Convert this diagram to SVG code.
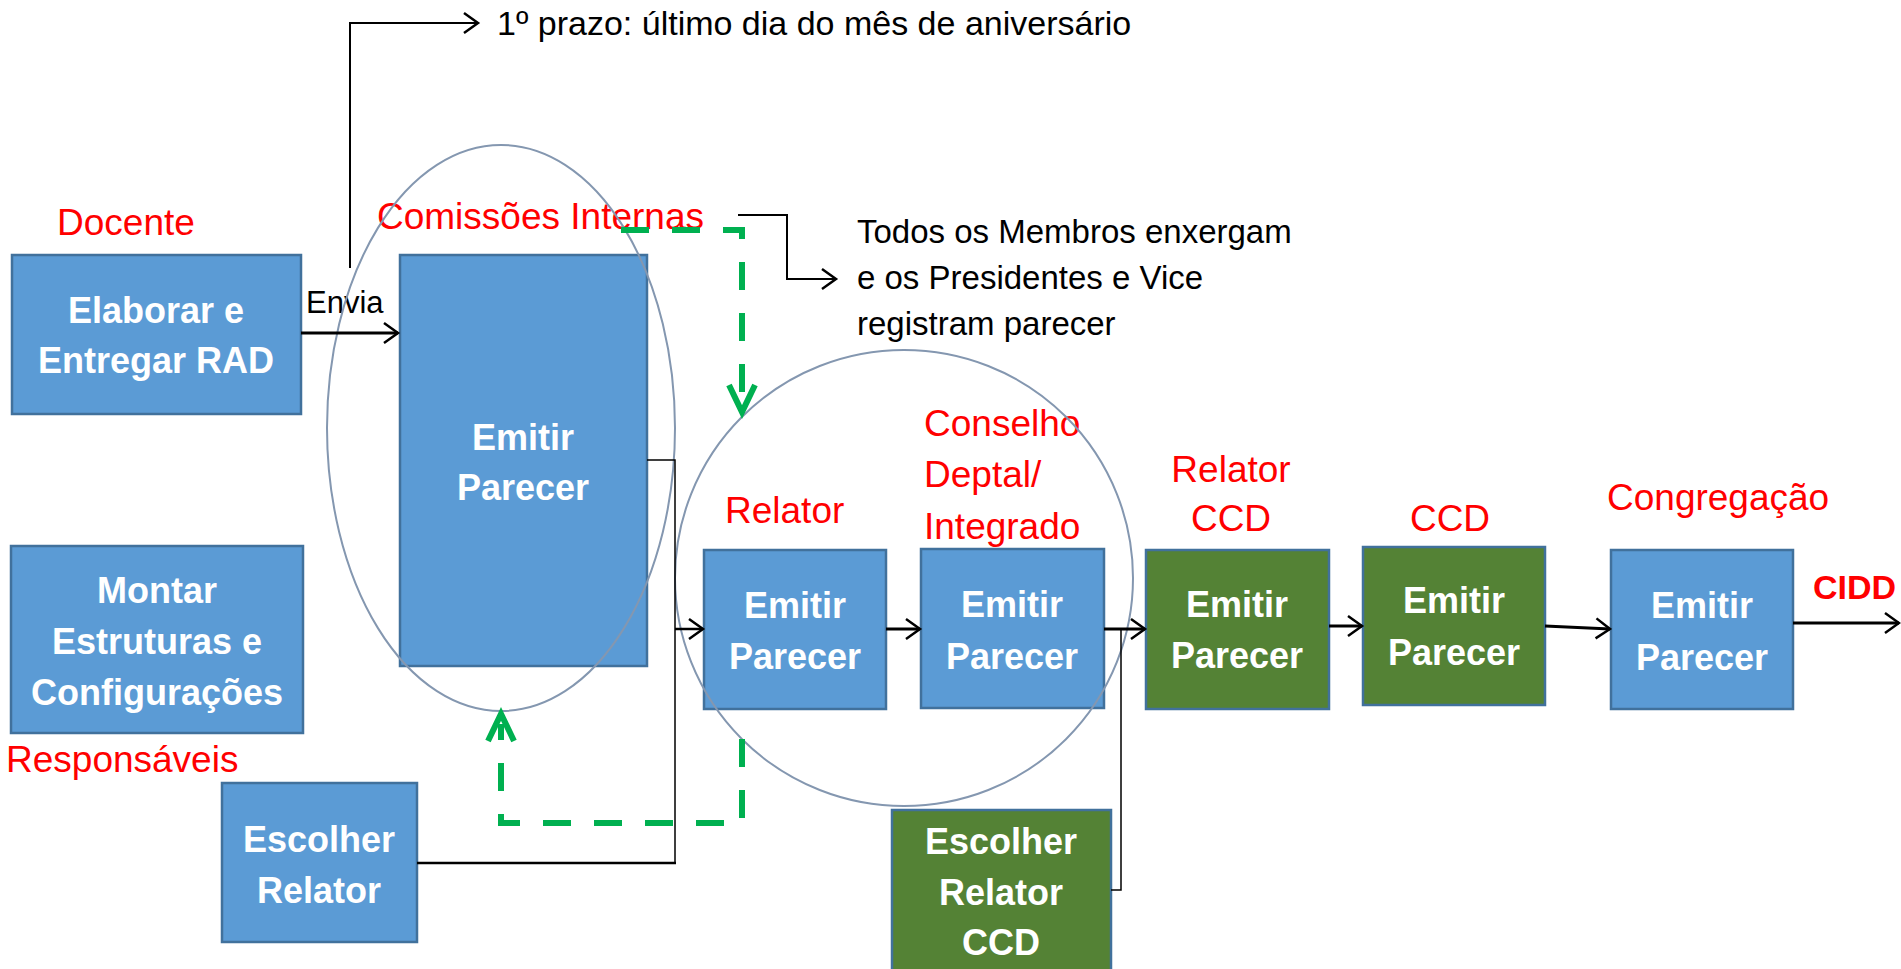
<svg xmlns="http://www.w3.org/2000/svg" width="1901" height="969" viewBox="0 0 1901 969">
<defs>
<style>
.box{stroke:#41719C;stroke-width:2.5}
.blue{fill:#5B9BD5}
.green{fill:#548235}
.bt{font-family:"Liberation Sans",Arial,sans-serif;font-weight:bold;font-size:36px;fill:#fff;text-anchor:middle}
.red{font-family:"Liberation Sans",Arial,sans-serif;font-size:37px;fill:#FF0000}
.blk{font-family:"Liberation Sans",Arial,sans-serif;font-size:33px;fill:#000}
.ell{fill:none;stroke:#8497B0;stroke-width:2}
.ln{fill:none;stroke:#000}
.gd{fill:none;stroke:#00B050;stroke-width:6;stroke-dasharray:28 23}
.gh{fill:none;stroke:#00B050;stroke-width:6;stroke-linejoin:miter}
</style>
<marker id="ar" markerUnits="userSpaceOnUse" markerWidth="22" markerHeight="26" refX="17" refY="12" orient="auto">
<path d="M3,2 L17,12 L3,22" fill="none" stroke="#000" stroke-width="2.5"/>
</marker>
</defs>
<rect width="1901" height="969" fill="#fff"/>

<g id="labels">
<text class="red" x="57" y="235">Docente</text>
<text class="red" x="377" y="229">Comissões Internas</text>
<text class="red" x="6" y="772">Responsáveis</text>
<text class="red" x="725" y="523">Relator</text>
<text class="red" x="924" y="436">Conselho</text>
<text class="red" x="924" y="487">Deptal/</text>
<text class="red" x="924" y="539">Integrado</text>
<text class="red" x="1231" y="482" text-anchor="middle">Relator</text>
<text class="red" x="1231" y="531" text-anchor="middle">CCD</text>
<text class="red" x="1450" y="531" text-anchor="middle">CCD</text>
<text class="red" x="1607" y="510">Congregação</text>
<text class="red" x="1813" y="599" style="font-weight:bold;font-size:34px">CIDD</text>
<text class="blk" x="497" y="35" style="font-size:34px">1º prazo: último dia do mês de aniversário</text>
<text class="blk" x="857" y="243">Todos os Membros enxergam</text>
<text class="blk" x="857" y="289">e os Presidentes e Vice</text>
<text class="blk" x="857" y="335">registram parecer</text>
<text class="blk" x="306" y="313" style="font-size:31px">Envia</text>
</g>

<g id="n-elaborar"><rect class="box blue" x="12" y="255" width="289" height="159"/><text class="bt" x="156" y="323">Elaborar e</text><text class="bt" x="156" y="373">Entregar RAD</text></g>
<g id="n-emitir-ci"><rect class="box blue" x="400" y="255" width="247" height="411"/><text class="bt" x="523" y="450">Emitir</text><text class="bt" x="523" y="500">Parecer</text></g>
<g id="n-montar"><rect class="box blue" x="11" y="546" width="292" height="187"/><text class="bt" x="157" y="603">Montar</text><text class="bt" x="157" y="654">Estruturas e</text><text class="bt" x="157" y="705">Configurações</text></g>
<g id="n-escolher"><rect class="box blue" x="222" y="783" width="195" height="159"/><text class="bt" x="319" y="852">Escolher</text><text class="bt" x="319" y="903">Relator</text></g>
<g id="n-relator"><rect class="box blue" x="704" y="550" width="182" height="159"/><text class="bt" x="795" y="618">Emitir</text><text class="bt" x="795" y="669">Parecer</text></g>
<g id="n-conselho"><rect class="box blue" x="921" y="549" width="183" height="159"/><text class="bt" x="1012" y="617">Emitir</text><text class="bt" x="1012" y="669">Parecer</text></g>
<g id="n-escolher-ccd"><rect class="box green" x="892" y="810" width="219" height="164"/><text class="bt" x="1001" y="854">Escolher</text><text class="bt" x="1001" y="905">Relator</text><text class="bt" x="1001" y="955">CCD</text></g>
<g id="n-relator-ccd"><rect class="box green" x="1146" y="550" width="183" height="159"/><text class="bt" x="1237" y="617">Emitir</text><text class="bt" x="1237" y="668">Parecer</text></g>
<g id="n-ccd"><rect class="box green" x="1363" y="547" width="182" height="158"/><text class="bt" x="1454" y="613">Emitir</text><text class="bt" x="1454" y="665">Parecer</text></g>
<g id="n-congregacao"><rect class="box blue" x="1611" y="550" width="182" height="159"/><text class="bt" x="1702" y="618">Emitir</text><text class="bt" x="1702" y="670">Parecer</text></g>

<g id="groups">
<ellipse class="ell" cx="501" cy="428" rx="174" ry="283"/>
<ellipse class="ell" cx="904" cy="578" rx="229" ry="228"/>
</g>

<g id="connectors">
<path class="ln" stroke-width="3" d="M301,333 L398,333" marker-end="url(#ar)"/>
<path class="ln" stroke-width="2" d="M350,268 L350,23 L478,23" marker-end="url(#ar)"/>
<path class="ln" stroke-width="2" d="M738,215 L787,215 L787,279 L836,279" marker-end="url(#ar)"/>
<path class="ln" stroke-width="1.5" d="M647,460 L675,460 L675,863"/>
<path class="ln" stroke-width="2.5" d="M417,863 L676,863"/>
<path class="ln" stroke-width="2.5" d="M675,629 L703,629" marker-end="url(#ar)"/>
<path class="ln" stroke-width="3" d="M886,629 L920,629" marker-end="url(#ar)"/>
<path class="ln" stroke-width="3" d="M1104,629 L1145,629" marker-end="url(#ar)"/>
<path class="ln" stroke-width="1.5" d="M1111,890 L1121,890 L1121,629"/>
<path class="ln" stroke-width="3" d="M1329,626 L1362,626" marker-end="url(#ar)"/>
<path class="ln" stroke-width="3" d="M1545,626 L1610,629" marker-end="url(#ar)"/>
<path class="ln" stroke-width="3" d="M1793,623 L1899,623" marker-end="url(#ar)"/>
<path class="gd" d="M621,230 L742,230 L742,405"/>
<path class="gh" d="M729,385 L742,412 L755,385"/>
<path class="gd" d="M742,739 L742,823 L501,823 L501,724"/>
<path class="gh" d="M488,741 L501,714 L514,741"/>
</g>
</svg>
